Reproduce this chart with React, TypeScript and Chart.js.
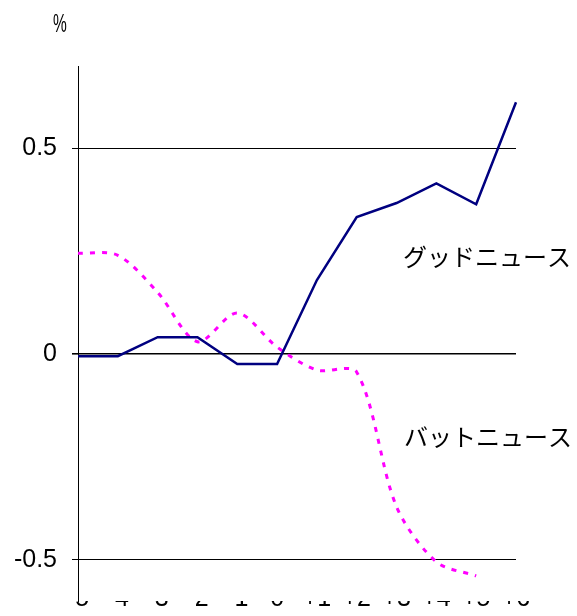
import React, { useEffect, useRef } from "react";
import { Chart, registerables } from "chart.js";

Chart.register(...registerables);

const categories = ["-5", "-4", "-3", "-2", "-1", "0", "+1", "+2", "+3", "+4", "+5", "+6"];
const goodNews = [-0.005, -0.005, 0.041, 0.041, -0.024, -0.024, 0.18, 0.333, 0.367, 0.415, 0.364, 0.612];
const badNews = [0.245, 0.24, 0.15, 0.03, 0.1, 0.017, -0.039, -0.044, -0.371, -0.505, -0.539, null];
const yTicks = [-0.5, 0, 0.5];
const yUnit = "%";
const goodLabel = "グッドニュース";
const badLabel = "バットニュース";

const textPlugin = {
  id: "texts",
  afterDraw(chart: any) {
    const ctx = chart.ctx;
    const y = chart.scales.y;
    ctx.save();
    ctx.fillStyle = "#000";
    ctx.textBaseline = "middle";
    ctx.textAlign = "center";
    ctx.save();
    ctx.translate(60, 25);
    ctx.scale(0.62, 1);
    ctx.font = "25px 'Liberation Sans', Arial, sans-serif";
    ctx.fillText(yUnit, 0, 0);
    ctx.restore();
    ctx.textAlign = "left";
    ctx.font = "24px 'Noto Sans CJK JP', sans-serif";
    ctx.fillText(goodLabel, 403, y.getPixelForValue(0.235));
    ctx.fillText(badLabel, 404, y.getPixelForValue(-0.2));
    ctx.restore();
  },
};

export default function App() {
  const ref = useRef<HTMLCanvasElement>(null);
  useEffect(() => {
    if (!ref.current) return;
    const chart = new Chart(ref.current, {
      type: "line",
      data: {
        labels: categories,
        datasets: [
          {
            label: "good",
            data: goodNews,
            borderColor: "#000080",
            borderWidth: 2.5,
            pointRadius: 0,
            tension: 0,
          },
          {
            label: "bad",
            data: badNews,
            borderColor: "#FF00FF",
            borderWidth: 3,
            borderDash: [5, 7],
            pointRadius: 0,
            tension: 0.3,
          },
        ],
      },
      options: {
        responsive: true,
        maintainAspectRatio: false,
        animation: false,
        layout: { padding: { left: 0, top: 66, right: 61, bottom: 0 } },
        plugins: { legend: { display: false }, tooltip: { enabled: false } },
        scales: {
          x: {
            type: "category",
            offset: false,
            grid: { display: false, drawTicks: false },
            border: { display: false },
            ticks: {
              autoSkip: false,
              maxRotation: 0,
              minRotation: 0,
              padding: -14,
              color: "#000",
              font: { family: "'Liberation Sans', Arial, sans-serif", size: 25, lineHeight: 1 },
            },
            afterFit(scale: any) {
              scale.height = 15;
              scale.paddingLeft = 0;
              scale.paddingRight = 0;
            },
          },
          y: {
            type: "linear",
            min: -0.6,
            max: 0.7,
            afterBuildTicks(scale: any) {
              scale.ticks = yTicks.map((v) => ({ value: v }));
            },
            afterFit(scale: any) {
              scale.width = 78;
              scale.paddingTop = 0;
              scale.paddingBottom = 0;
            },
            grid: {
              color: "#000",
              lineWidth: (c: any) => (c.tick && c.tick.value === 0 ? 1.6 : 1),
              tickLength: 6,
              drawTicks: true,
            },
            border: { display: true, color: "#000", width: 1 },
            ticks: {
              padding: 15,
              color: "#000",
              font: { family: "'Liberation Sans', Arial, sans-serif", size: 25 },
              callback: (v: any) => String(v),
            },
          },
        },
      },
      plugins: [textPlugin],
    });
    return () => chart.destroy();
  }, []);
  return (
    <div style={{ position: "absolute", left: 0, top: 0, width: 577, height: 616, background: "#fff" }}>
      <canvas ref={ref} />
    </div>
  );
}
